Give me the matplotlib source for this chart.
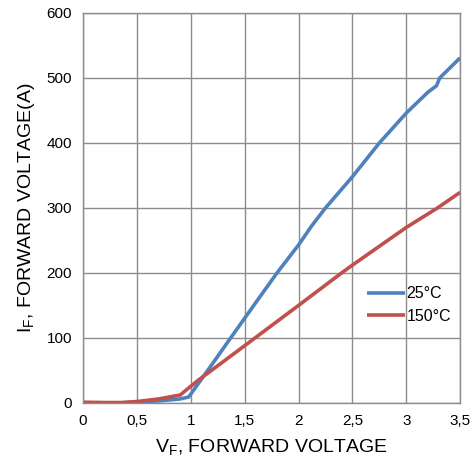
import matplotlib
matplotlib.use('Agg')
import matplotlib.pyplot as plt
from matplotlib.ticker import FuncFormatter, MultipleLocator

plt.rcParams['font.family'] = ['Liberation Sans', 'DejaVu Sans']

# Forward characteristics
vf_25 = [0, 0.35, 0.5, 0.7, 0.9, 0.98, 1.2, 1.37, 1.55, 1.8, 2.0, 2.12, 2.25, 2.5, 2.75, 3.0, 3.2, 3.28, 3.31, 3.5]
if_25 = [0, 0, 1, 3, 6, 9, 60, 100, 142, 200, 243, 272, 300, 348, 400, 446, 478, 488, 500, 531]

vf_150 = [0, 0.2, 0.35, 0.5, 0.7, 0.9, 1.07, 1.5, 2.0, 2.4, 2.5, 3.0, 3.29, 3.5]
if_150 = [1, 0.5, 0.5, 2, 6, 12, 35, 88, 150, 200, 212, 270, 300, 324]

labels = ['25°C', '150°C']
colors = ['#4f81bd', '#c0504d']

fig = plt.figure(figsize=(4.72, 4.62), dpi=100)
ax = fig.add_axes([0.176, 0.128, 0.799, 0.844])

ax.plot(vf_25, if_25, color=colors[0], lw=2.6, label=labels[0], solid_capstyle='butt')
ax.plot(vf_150, if_150, color=colors[1], lw=2.6, label=labels[1], solid_capstyle='butt')

ax.set_xlim(0, 3.5)
ax.set_ylim(0, 600)
ax.xaxis.set_major_locator(MultipleLocator(0.5))
ax.yaxis.set_major_locator(MultipleLocator(100))
ax.xaxis.set_major_formatter(FuncFormatter(lambda v, p: ('%g' % v).replace('.', ',')))

grid_c = '#8c8c8c'
ax.grid(True, color=grid_c, lw=1)
ax.set_axisbelow(True)
for s in ax.spines.values():
    s.set_color(grid_c)
    s.set_linewidth(1)
ax.tick_params(length=0, labelsize=11, pad=8, colors='black')

ax.set_xlabel('V$_\\mathregular{F}$, FORWARD VOLTAGE', fontsize=14, labelpad=7)
ax.set_ylabel('I$_\\mathregular{F}$, FORWARD VOLTAGE(A)', fontsize=14, labelpad=7)

ax.legend(loc='upper left', bbox_to_anchor=(0.735, 0.315), frameon=False, fontsize=11.5,
          handlelength=2.4, handletextpad=0.1, labelspacing=0.45, borderaxespad=0)

fig.savefig('out.png', dpi=100)
